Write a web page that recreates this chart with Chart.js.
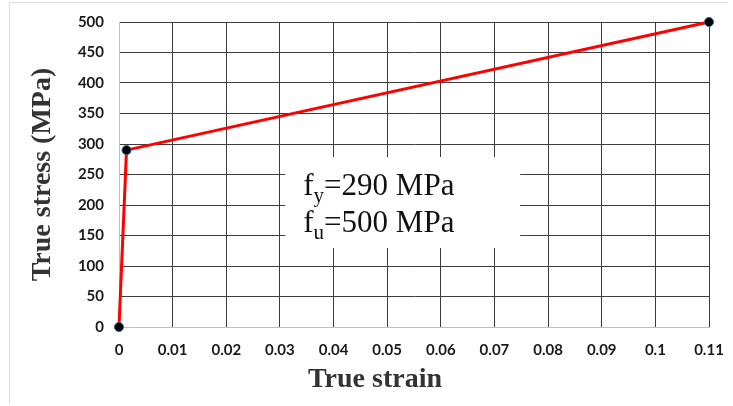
<!DOCTYPE html>
<html>
<head>
<meta charset="utf-8">
<script src="https://cdn.jsdelivr.net/npm/chart.js@4.4.1/dist/chart.umd.min.js"></script>
<style>
  html, body { margin: 0; padding: 0; background: #ffffff; }
  #wrap { width: 733px; height: 406px; }
</style>
</head>
<body>
<div id="wrap"><canvas id="c" width="733" height="406"></canvas></div>
<script>
// True stress–strain curve (bilinear steel model)
const strain = [0, 0.0014, 0.11];
const stress = [0, 290, 500];

// Axis settings
const xMin = 0, xMax = 0.11, xStep = 0.01;
const yMin = 0, yMax = 500, yStep = 50;

// Material properties shown in the text box
const propLabels = [
  { base: 'f', sub: 'y', rest: '=290 MPa' },
  { base: 'f', sub: 'u', rest: '=500 MPa' }
];
// Text box extent, in data units (strain, stress)
const boxX = [0.031, 0.0748];
const boxY = [129.5, 278.7];

const xTitle = 'True strain';
const yTitle = 'True stress (MPa)';

const serif = '"Liberation Serif", "Times New Roman", serif';
const tickFont = { family: 'Lato, "Open Sans", sans-serif', size: 15, weight: 'bold' };

const framePlugin = {
  id: 'frame',
  beforeDraw(chart) {
    const ctx = chart.ctx;
    ctx.save();
    ctx.fillStyle = '#ffffff';
    ctx.fillRect(0, 0, chart.width, chart.height);
    ctx.strokeStyle = '#dcdcdc';
    ctx.lineWidth = 1;
    ctx.beginPath();
    ctx.moveTo(9.5, 404);
    ctx.lineTo(9.5, 2.5);
    ctx.lineTo(728, 2.5);
    ctx.stroke();
    ctx.restore();
  }
};

const textBoxPlugin = {
  id: 'textBox',
  beforeDatasetsDraw(chart) {
    const { ctx, scales: { x, y } } = chart;
    const left = x.getPixelForValue(boxX[0]);
    const right = x.getPixelForValue(boxX[1]);
    const top = y.getPixelForValue(boxY[1]);
    const bottom = y.getPixelForValue(boxY[0]);
    ctx.save();
    ctx.fillStyle = '#ffffff';
    ctx.fillRect(left, top, right - left, bottom - top);
    ctx.fillStyle = '#111111';
    ctx.textBaseline = 'alphabetic';
    ctx.textAlign = 'left';
    propLabels.forEach((p, i) => {
      const bx = left + 18;
      const by = top + 38 + i * 37;
      ctx.font = `31px ${serif}`;
      ctx.fillText(p.base, bx, by);
      let cx = bx + ctx.measureText(p.base).width;
      ctx.font = `21px ${serif}`;
      ctx.fillText(p.sub, cx, by + 7);
      cx += ctx.measureText(p.sub).width;
      ctx.font = `31px ${serif}`;
      ctx.fillText(p.rest, cx, by);
    });
    ctx.restore();
  }
};

const xTitlePlugin = {
  id: 'xTitle',
  afterDraw(chart) {
    const ctx = chart.ctx;
    ctx.save();
    ctx.font = `bold 28px ${serif}`;
    ctx.fillStyle = '#333333';
    ctx.textAlign = 'center';
    ctx.textBaseline = 'alphabetic';
    ctx.fillText(xTitle, 375, 387);
    ctx.restore();
  }
};

const gridColor = (ctx) => (ctx.tick && ctx.tick.value === 0) ? '#c0c0c0' : '#3c3c3c';

new Chart(document.getElementById('c'), {
  type: 'scatter',
  data: {
    datasets: [{
      data: strain.map((s, i) => ({ x: s, y: stress[i] })),
      showLine: true,
      clip: false,
      borderColor: '#ff0000',
      borderWidth: 3,
      tension: 0,
      pointRadius: 4.5,
      pointBackgroundColor: '#000000',
      pointBorderColor: '#2e5d8e',
      pointBorderWidth: 1
    }]
  },
  options: {
    responsive: false,
    animation: false,
    devicePixelRatio: 1,
    layout: { padding: { left: 0, top: 22, right: 24, bottom: 0 } },
    plugins: {
      legend: { display: false },
      tooltip: { enabled: false }
    },
    scales: {
      x: {
        type: 'linear',
        min: xMin, max: xMax,
        afterFit: (s) => { s.height = 79; s.paddingLeft = 0; s.paddingRight = 0; },
        ticks: {
          stepSize: xStep,
          padding: 14,
          color: '#1a1a1a',
          font: tickFont,
          maxRotation: 0,
          autoSkip: false,
          callback: (v) => String(Number(v.toFixed(2)))
        },
        grid: { color: gridColor, lineWidth: 1, drawTicks: false },
        border: { color: '#c0c0c0', width: 1 }
      },
      y: {
        type: 'linear',
        min: yMin, max: yMax,
        afterFit: (s) => { s.width = 119; s.paddingTop = 0; s.paddingBottom = 0; },
        ticks: {
          stepSize: yStep,
          padding: 15,
          color: '#1a1a1a',
          font: tickFont
        },
        grid: { color: gridColor, lineWidth: 1, drawTicks: false },
        border: { color: '#c0c0c0', width: 1 },
        title: {
          display: true,
          text: yTitle,
          color: '#333333',
          font: { family: serif, size: 28, weight: 'bold' },
          padding: { top: 26, bottom: 0 }
        }
      }
    }
  },
  plugins: [framePlugin, textBoxPlugin, xTitlePlugin]
});
</script>
</body>
</html>
